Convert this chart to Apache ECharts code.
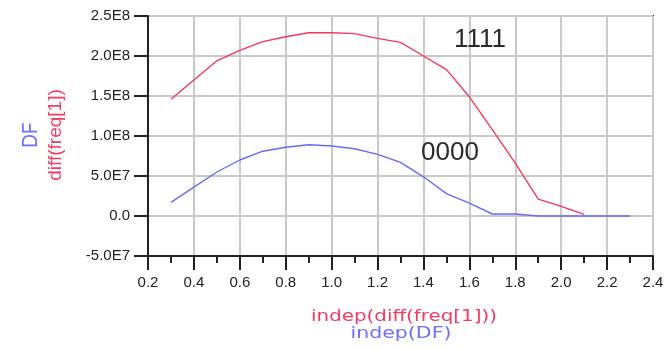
<!DOCTYPE html>
<html>
<head>
<meta charset="utf-8">
<title>diff(freq[1]) and DF vs indep</title>
<script src="https://cdn.jsdelivr.net/npm/echarts@6/dist/echarts.min.js"></script>
<style>
  html, body { margin: 0; padding: 0; background: #ffffff; }
  #chart { width: 667px; height: 350px; }
</style>
</head>
<body>
<div id="chart"></div>
<script>
// Sweep positions (independent variable)
var indepFreq = [0.3, 0.4, 0.5, 0.6, 0.7, 0.8, 0.9, 1.0, 1.1, 1.2, 1.3, 1.4, 1.5, 1.6, 1.7, 1.8, 1.9, 2.0, 2.1];
var indepDF   = [0.3, 0.4, 0.5, 0.6, 0.7, 0.8, 0.9, 1.0, 1.1, 1.2, 1.3, 1.4, 1.5, 1.6, 1.7, 1.8, 1.9, 2.0, 2.1, 2.2, 2.3];

// diff(freq[1]) for state "1111"
var diffFreq1 = [1.46e8, 1.70e8, 1.94e8, 2.07e8, 2.18e8, 2.24e8, 2.29e8, 2.29e8, 2.28e8, 2.22e8,
                 2.17e8, 2.00e8, 1.83e8, 1.49e8, 1.08e8, 6.6e7, 2.1e7, 1.2e7, 2.0e6];
// DF for state "0000"
var dfValues  = [1.7e7, 3.6e7, 5.5e7, 7.0e7, 8.1e7, 8.6e7, 8.9e7, 8.75e7, 8.4e7, 7.7e7,
                 6.7e7, 4.9e7, 2.8e7, 1.6e7, 2.5e6, 2.5e6, 0, 0, 0, 0, 0];

// Trace labels
var traceLabels = ['1111', '0000'];
// Axis titles
var xTitles = ['indep(diff(freq[1]))', 'indep(DF)'];
var yTitles = ['DF', 'diff(freq[1])'];

var RED = '#f2385f';
var BLUE = '#6a6af5';
var INK = '#222222';

function pairs(xs, ys) {
  return xs.map(function (x, i) { return [x, ys[i]]; });
}

function sciLabel(v) {
  if (v === 0) return '0.0';
  var sign = v < 0 ? '-' : '';
  var a = Math.abs(v);
  var e = Math.floor(Math.log10(a) + 1e-9);
  var m = a / Math.pow(10, e);
  return sign + m.toFixed(1) + 'E' + e;
}

var chart = echarts.init(document.getElementById('chart'), null, { renderer: 'canvas' });

var labelFont = {
  fontFamily: '"Liberation Sans", Arial, sans-serif',
  fontSize: 15,
  color: INK
};

chart.setOption({
  animation: false,
  backgroundColor: '#ffffff',
  grid: {
    left: 148, right: 14, top: 16, bottom: 94,
    show: true,
    borderColor: '#333333',
    borderWidth: 2,
    backgroundColor: 'transparent'
  },
  xAxis: {
    type: 'value',
    min: 0.2, max: 2.4, interval: 0.2,
    axisLine: { show: true, onZero: false, lineStyle: { color: INK, width: 2 } },
    axisTick: { show: true, length: 14, lineStyle: { color: INK, width: 2 } },
    minorTick: { show: true, splitNumber: 2, length: 7, lineStyle: { color: INK, width: 2 } },
    splitLine: { show: true, lineStyle: { color: '#c9c9c9', width: 2 } },
    axisLabel: Object.assign({ margin: 19, formatter: function (v) { return v.toFixed(1); } }, labelFont)
  },
  yAxis: {
    type: 'value',
    min: -5e7, max: 2.5e8, interval: 5e7,
    axisLine: { show: true, onZero: false, lineStyle: { color: INK, width: 2 } },
    axisTick: { show: true, length: 14, lineStyle: { color: INK, width: 2 } },
    splitLine: { show: true, lineStyle: { color: '#c9c9c9', width: 2 } },
    axisLabel: Object.assign({ margin: 18, formatter: sciLabel }, labelFont)
  },
  series: [
    {
      name: traceLabels[0],
      type: 'line',
      data: pairs(indepFreq, diffFreq1),
      showSymbol: false,
      lineStyle: { color: RED, width: 1.4 },
      itemStyle: { color: RED },
      z: 3
    },
    {
      name: traceLabels[1],
      type: 'line',
      data: pairs(indepDF, dfValues),
      showSymbol: false,
      lineStyle: { color: BLUE, width: 1.4 },
      itemStyle: { color: BLUE },
      z: 2
    }
  ],
  graphic: [
    // trace tags
    {
      type: 'text', left: 454, top: 27, z: 10,
      style: { text: traceLabels[0], font: '26px "Liberation Sans", Arial, sans-serif', fill: '#2b2b2b' }
    },
    {
      type: 'text', left: 421, top: 140, z: 10,
      style: { text: traceLabels[1], font: '26px "Liberation Sans", Arial, sans-serif', fill: '#2b2b2b' }
    },
    // y-axis titles (rotated)
    {
      type: 'text', x: 31, y: 135, rotation: Math.PI / 2, scaleY: 1.2, z: 10,
      style: { text: yTitles[0], font: '19px "Liberation Sans", Arial, sans-serif', fill: '#6e6ef8',
               align: 'center', verticalAlign: 'middle' }
    },
    {
      type: 'text', x: 56, y: 135, rotation: Math.PI / 2, z: 10,
      style: { text: yTitles[1], font: '19px "Liberation Sans", Arial, sans-serif', fill: '#f03c64',
               align: 'center', verticalAlign: 'middle' }
    },
    // x-axis titles
    {
      type: 'text', x: 404, y: 317, scaleX: 1.24, z: 10,
      style: { text: xTitles[0], font: '16px "DejaVu Sans", sans-serif', fill: '#f03c64',
               align: 'center', verticalAlign: 'middle' }
    },
    {
      type: 'text', x: 401, y: 334, scaleX: 1.28, z: 10,
      style: { text: xTitles[1], font: '16px "DejaVu Sans", sans-serif', fill: '#6e6ef8',
               align: 'center', verticalAlign: 'middle' }
    }
  ]
});
</script>
</body>
</html>
